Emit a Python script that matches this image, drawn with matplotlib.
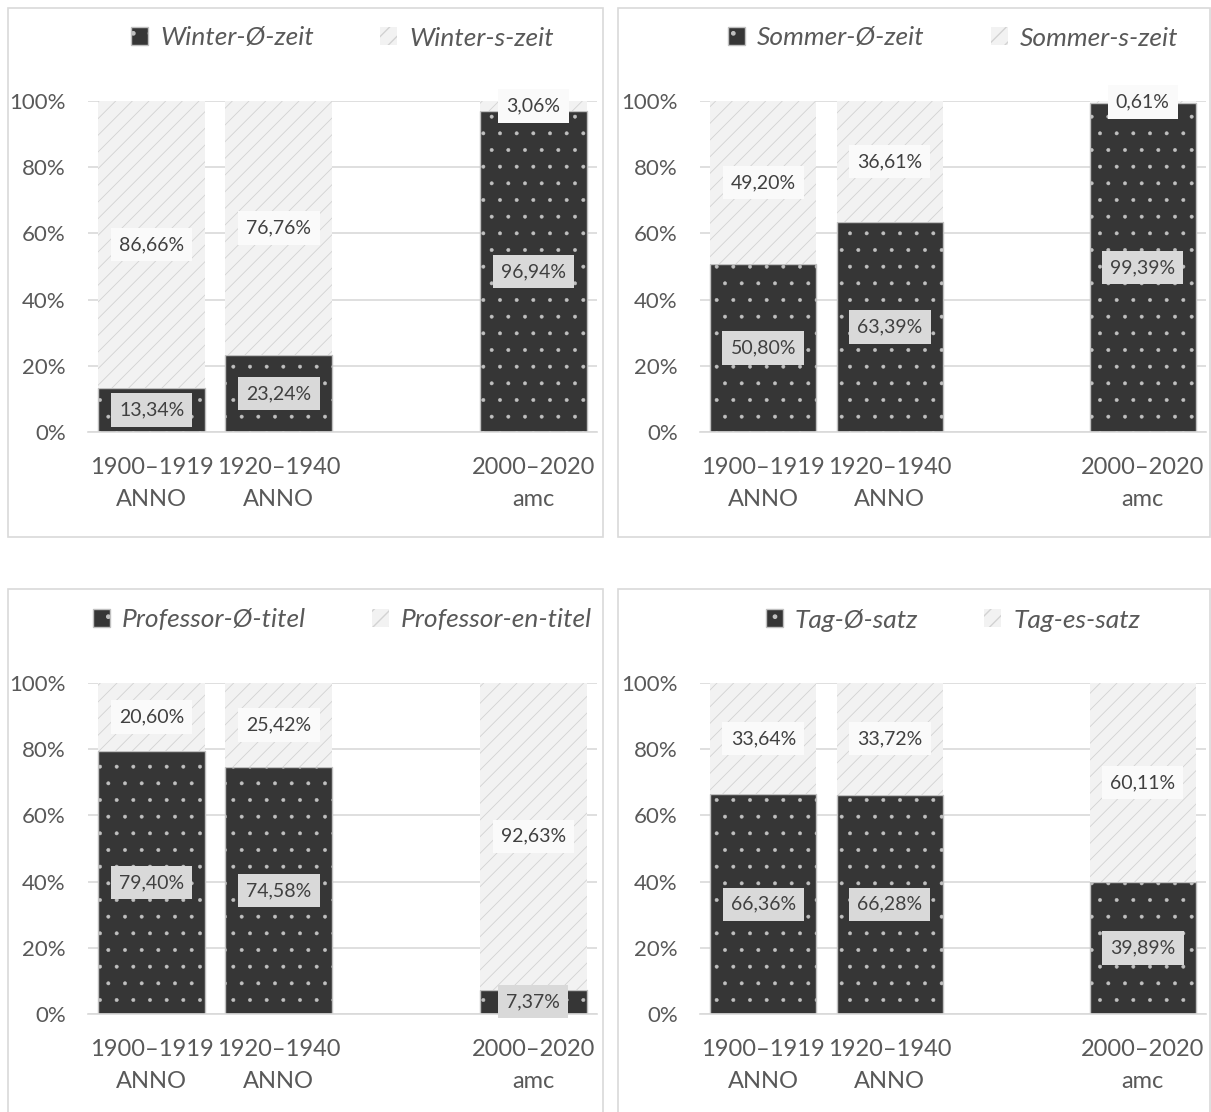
import numpy as np
import matplotlib.pyplot as plt
from matplotlib.patches import Rectangle, Patch

plt.rcParams['font.family'] = ['Lato', 'DejaVu Sans']

categories = ['1900–1919\nANNO', '1920–1940\nANNO', '', '2000–2020\namc']
nan = np.nan

winter_zero = [13.34, 23.24, nan, 96.94]
winter_s = [86.66, 76.76, nan, 3.06]
sommer_zero = [50.80, 63.39, nan, 99.39]
sommer_s = [49.20, 36.61, nan, 0.61]
prof_zero = [79.40, 74.58, nan, 7.37]
prof_en = [20.60, 25.42, nan, 92.63]
tag_zero = [66.36, 66.28, nan, 39.89]
tag_es = [33.64, 33.72, nan, 60.11]

panels = [
    ('Winter-Ø-zeit', 'Winter-s-zeit', winter_zero, winter_s),
    ('Sommer-Ø-zeit', 'Sommer-s-zeit', sommer_zero, sommer_s),
    ('Professor-Ø-titel', 'Professor-en-titel', prof_zero, prof_en),
    ('Tag-Ø-satz', 'Tag-es-satz', tag_zero, tag_es),
]

W, H = 1211, 1112
fig = plt.figure(figsize=(W / 100, H / 100), dpi=100)

# pixel boxes: (panel border), (plot area), legend y
boxes = [
    ((8, 8, 603, 537), (88, 101, 597, 432), 38),
    ((618, 8, 1210, 537), (700, 101, 1206, 432), 38),
    ((8, 589, 603, 1130), (88, 683, 597, 1014), 620),
    ((618, 589, 1210, 1130), (700, 683, 1206, 1014), 620),
]

dark = '#363636'
light = '#f2f2f2'
txt = '#595959'


def dark_patch(**kw):
    with plt.rc_context({'hatch.linewidth': 0.35}):
        return Patch(facecolor=dark, edgecolor='#c0c0c0', hatch='.', **kw)


def light_patch(**kw):
    with plt.rc_context({'hatch.linewidth': 0.6}):
        return Patch(facecolor=light, edgecolor='#d2d2d2', hatch='//', linewidth=0, **kw)


for (l0, l1, v0, v1), (border, area, ly) in zip(panels, boxes):
    bx0, by0, bx1, by1 = border
    fig.patches.append(Rectangle((bx0 / W, 1 - by1 / H), (bx1 - bx0) / W, (by1 - by0) / H,
                                 transform=fig.transFigure, fill=False,
                                 edgecolor='#d9d9d9', linewidth=1.2))
    x0, y0, x1, y1 = area
    ax = fig.add_axes([x0 / W, 1 - y1 / H, (x1 - x0) / W, (y1 - y0) / H])
    x = np.arange(len(categories))
    a = np.array(v0) / 100
    b = np.array(v1) / 100
    with plt.rc_context({'hatch.linewidth': 0.35}):
        ax.bar(x, a, width=0.84, color=dark, edgecolor='#c0c0c0', hatch='.',
               linewidth=1, zorder=2)
    with plt.rc_context({'hatch.linewidth': 0.6}):
        ax.bar(x, b, width=0.84, bottom=a, color=light, edgecolor='#d2d2d2', hatch='//',
               linewidth=0, zorder=2)
    for i in range(len(categories)):
        if np.isnan(a[i]):
            continue
        ax.text(x[i], a[i] / 2, f'{v0[i]:.2f}%'.replace('.', ','), ha='center', va='center',
                fontsize=14, color='#404040', zorder=4,
                bbox=dict(boxstyle='square,pad=0.42', facecolor='#d9d9d9', edgecolor='none'))
        ax.text(x[i], a[i] + b[i] / 2, f'{v1[i]:.2f}%'.replace('.', ','), ha='center',
                va='center', fontsize=14, color='#404040', zorder=4,
                bbox=dict(boxstyle='square,pad=0.42', facecolor='#fafafa', edgecolor='none'))
    ax.set_xlim(-0.5, len(categories) - 0.5)
    ax.set_ylim(0, 1)
    yt = np.arange(0, 1.01, 0.2)
    ax.set_yticks(yt)
    ax.set_yticklabels([f'{int(round(t * 100))}%' for t in yt])
    ax.set_xticks(x)
    ax.set_xticklabels(categories, linespacing=1.65)
    ax.yaxis.grid(True, color='#d9d9d9', linewidth=1.2, zorder=0)
    ax.set_axisbelow(True)
    for s in ['top', 'right', 'left']:
        ax.spines[s].set_visible(False)
    ax.spines['bottom'].set_color('#d9d9d9')
    ax.spines['bottom'].set_linewidth(1.2)
    ax.tick_params(axis='y', length=0, pad=16, labelsize=16, labelcolor=txt)
    ax.tick_params(axis='x', length=0, pad=18, labelsize=17, labelcolor=txt)
    handles = [dark_patch(label=l0), light_patch(label=l1)]
    cx = (x0 + x1) / 2
    fig.legend(handles=handles, loc='center', bbox_to_anchor=(cx / W, 1 - ly / H), ncol=2,
               frameon=False, handlelength=0.65, handleheight=0.65, handletextpad=0.45,
               columnspacing=2.5, prop={'style': 'italic', 'size': 19}, labelcolor=txt)

fig.savefig('out.png', dpi=100)
